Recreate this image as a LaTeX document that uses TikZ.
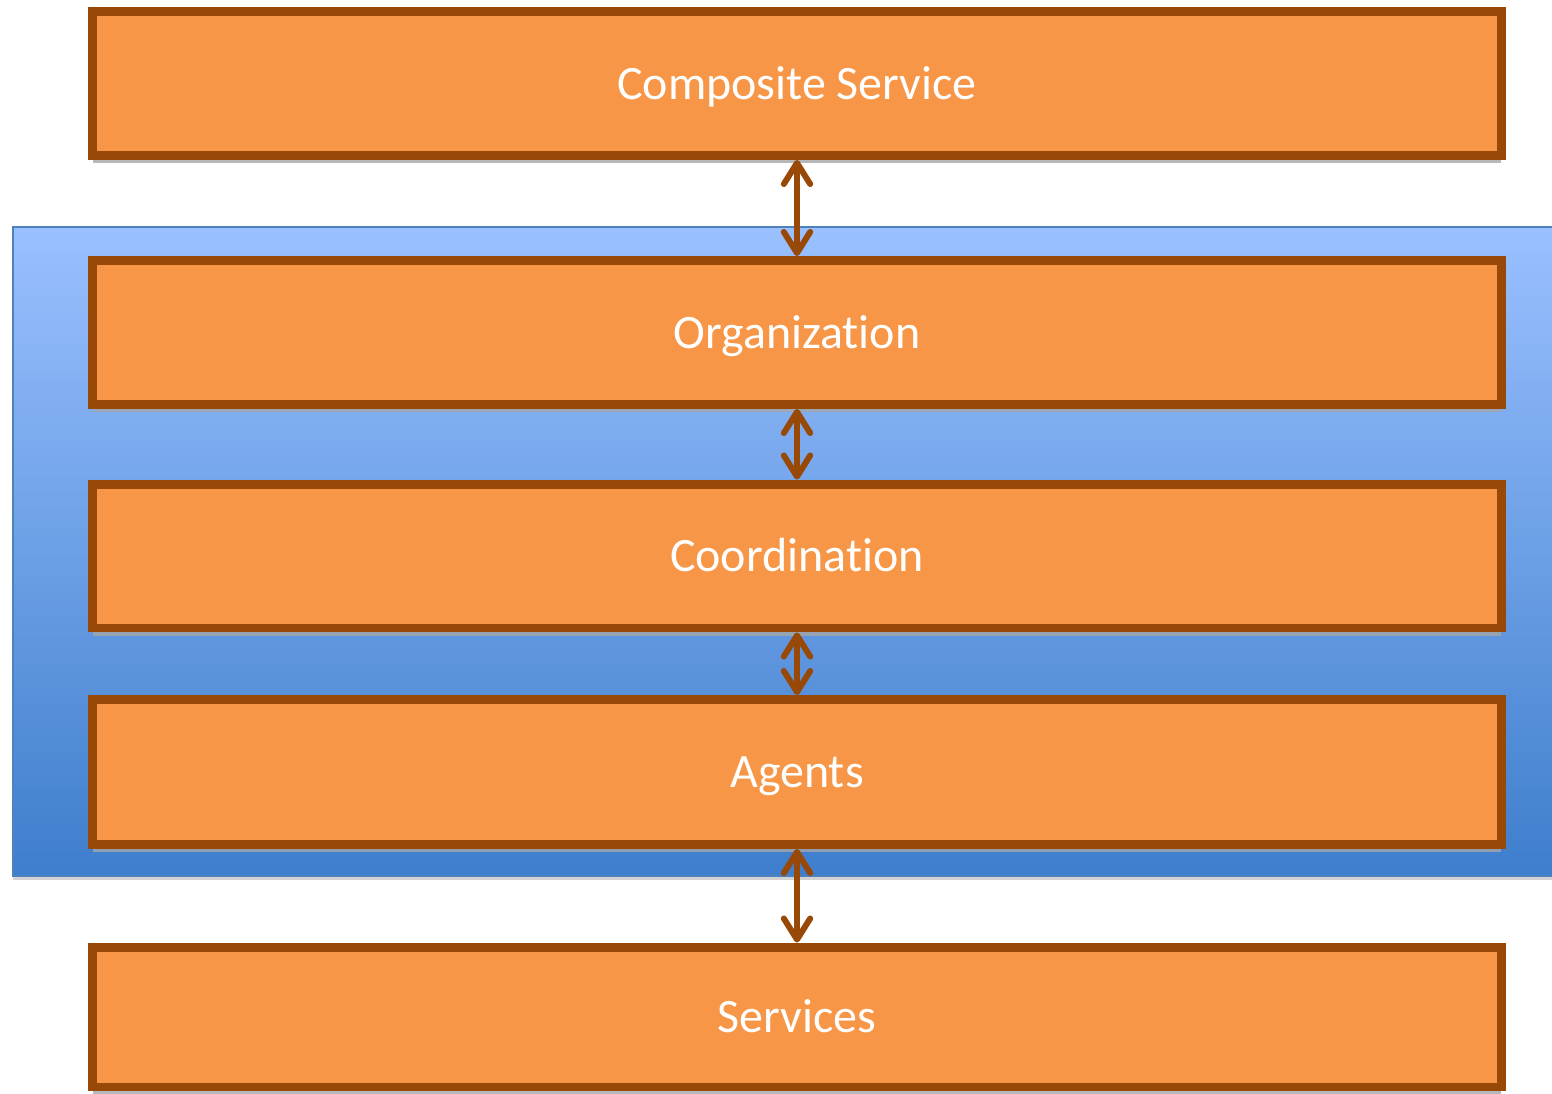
\documentclass[tikz,border=0pt]{standalone}
\usepackage{fontspec}
\setmainfont{Carlito}[Ligatures=NoCommon]
\usetikzlibrary{arrows.meta,shadows}

\definecolor{layerfill}{RGB}{247,150,70}
\definecolor{layerdraw}{RGB}{152,72,7}
\definecolor{paneltop}{RGB}{154,192,255}
\definecolor{panelbot}{RGB}{62,126,204}
\definecolor{paneldraw}{RGB}{79,129,189}

\tikzset{
    layer/.style = {draw = layerdraw, fill = layerfill, line width = 5.1pt,
        minimum width = 28.18cm, minimum height = 2.88cm, inner sep = 0pt,
        text = white, font = \fontsize{27.3}{32}\selectfont,
        text height = 22pt, text depth = 4.2pt,
        drop shadow = {shadow xshift = 0pt, shadow yshift = -4.3pt,
            fill = gray!70, opacity = 0.8}},
    link/.style = {draw = layerdraw, line width = 3.4pt,
        {Straight Barb[round, length = 12pt, width = 15pt]}-{Straight Barb[round, length = 12pt, width = 15pt]}}
}

\begin{document}
\begin{tikzpicture}[x = 0.02cm, y = -0.02cm]

    \useasboundingbox (0, 0) rectangle (1552, 1093);

    % blue panel behind the middle layers
    \shade[top color = paneltop, bottom color = panelbot, draw = paneldraw,
        line width = 1.2pt,
        drop shadow = {shadow xshift = 0pt, shadow yshift = -2.5pt, fill = gray!70}]
        (13, 227) rectangle (1560, 876);

    \node[layer] (composite) at (797, 83.5) {Composite Service};
    \node[layer] (organization) at (797, 332.5) {Organization};
    \node[layer] (coordination) at (797, 556) {Coordination};
    \node[layer, minimum height = 2.9cm] (agents) at (797, 772) {Agents};
    \node[layer, minimum height = 2.8cm] (services) at (797, 1017) {Services};

    \foreach \a/\b in {composite/organization, organization/coordination,
                       coordination/agents, agents/services}
        \draw[link] (\a.south) -- (\b.north);

\end{tikzpicture}
\end{document}
